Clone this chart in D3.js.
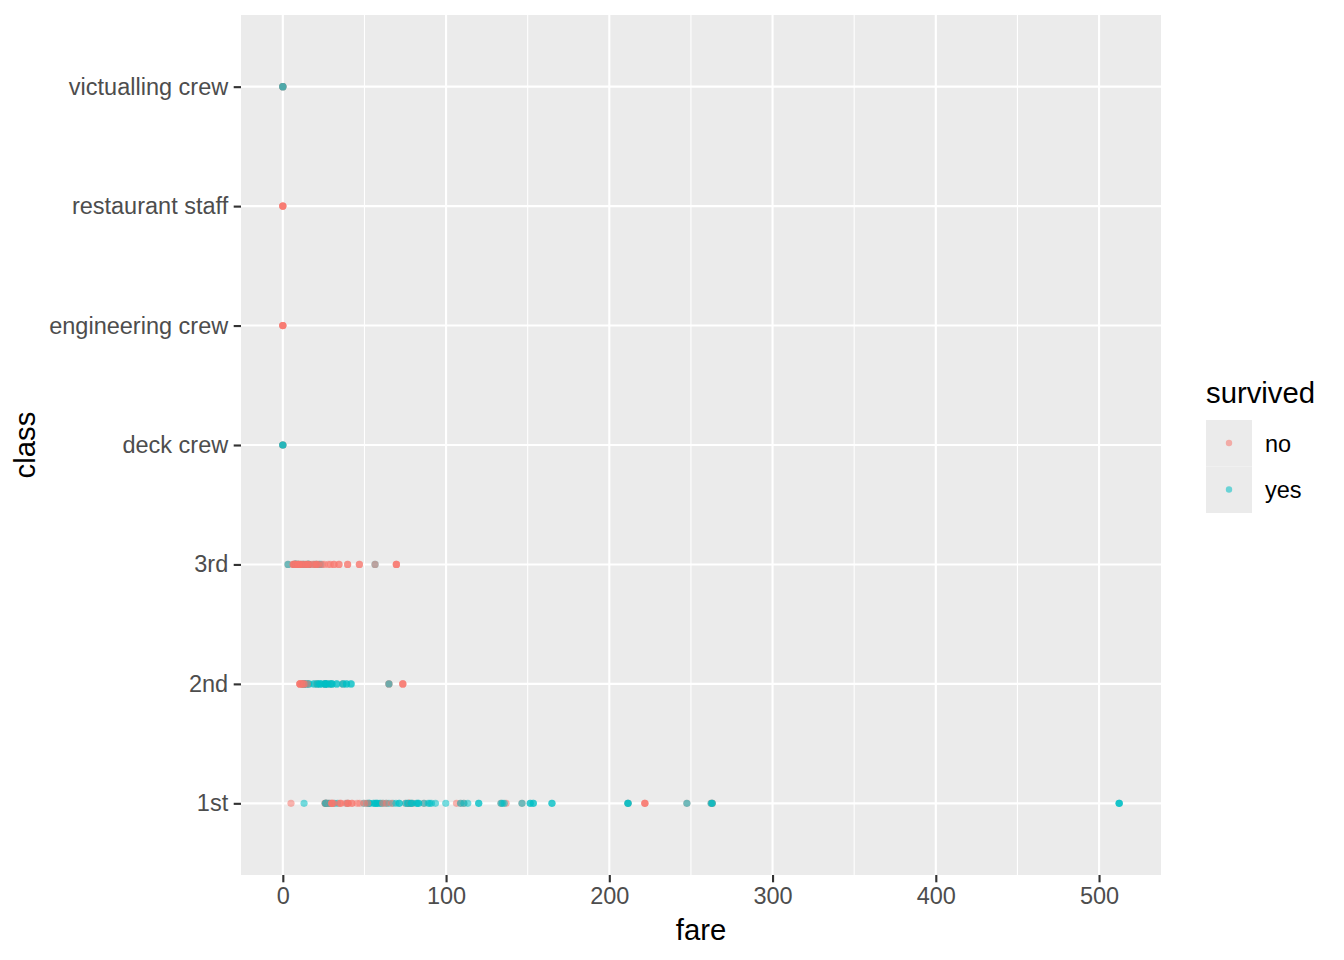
<!DOCTYPE html>
<html><head><meta charset="utf-8">
<script src="https://cdn.jsdelivr.net/npm/d3@7"></script>
<style>body{margin:0;background:#fff}svg{display:block}text{font-family:"Liberation Sans",Arial,sans-serif}</style>
</head><body><svg id="c" width="1344" height="960"></svg>
<script>
const classes = ["1st","2nd","3rd","deck crew","engineering crew","restaurant staff","victualling crew"];
const xTicks = [0,100,200,300,400,500];
const xMinor = [50,150,250,350,450];
const survivedLevels = ["no","yes"];
const colors = ["#F8766D","#00BFC4"];

const firstNo = [5,25.9,26,26.55,26.55,27.7,28.5,29.7,30,30,30.5,31,34.65,35.5,35.5,38.5,39.6,40.1,40.1,42.4,42.4,45.5,47.1,50,52,61.2,63.4,66.6,75.25,77.3,77.3,77.3,77.96,79.65,86.5,106.4,108.9,110.9,133.65,136.78,146.5,211.5,221.78,221.78,221.78,247.52,262.375,263,263];
const firstYes = [13,25.93,26.55,26.55,26.29,27.72,28.71,31.68,33.5,39.4,49.5,51.48,52.55,53.1,53.1,55.44,55.9,56.93,57,57.75,57.98,59.4,60,61.38,63.36,65,67.5,69.3,71.28,71.28,75.24,76.29,76.73,78.27,78.85,79.2,81.86,82.27,83.16,83.16,86.5,89.1,90,91.08,93.5,99.8,108.9,110.88,113.28,120,120,133.65,134.5,135.63,146.52,151.55,151.55,153.46,153.46,164.87,164.87,211.34,211.5,211.5,247.52,262.38,263,263,512.33,512.33,512.33];
const secondNo = [10.5,10.5,10.5,10.5,11.5,12,12.35,13,13,15,21,26,26,29,36.75,65,65,73.5,73.5,73.5];
const secondYes = [12.65,13,13,13,14.5,15,15.75,16,18.75,19.5,21,21,22,23,23,24,26,26,26,26.25,27,27.75,29,30,30,30.07,33,33,36.75,37,39,39,41.58,42,65];
const thirdNo = [3.17,6.24,6.45,7,7.05,7.23,7.25,7.75,7.9,8.05,8.66,9.35,9.5,9.8,10.46,11.13,12.29,12.47,14.1,14.5,15.25,15.5,16.1,17.8,18.79,20.21,20.52,21.08,22.03,24.15,25.47,27.9,29.12,31.27,31.39,34.38,34.38,39.69,39.69,46.9,46.9,56.5,69.55,69.55,69.55];
const thirdYes = [3.17,7.14,7.75,7.92,8.05,8.1,9.23,9.59,11.13,12.47,13.42,15.25,15.5,15.75,16.1,19.26,20.58,22.36,23.25,56.5];
const deckNo = [0,0];
const deckYes = [0,0,0];
const engineeringNo = [0,0,0,0];
const engineeringYes = [];
const restaurantNo = [0,0,0,0];
const restaurantYes = [];
const victuallingNo = [0,0,0];
const victuallingYes = [0,0,0];

const groups = [
  ["1st", firstNo, firstYes],
  ["2nd", secondNo, secondYes],
  ["3rd", thirdNo, thirdYes],
  ["deck crew", deckNo, deckYes],
  ["engineering crew", engineeringNo, engineeringYes],
  ["restaurant staff", restaurantNo, restaurantYes],
  ["victualling crew", victuallingNo, victuallingYes]
];
let points = [];
groups.forEach(([cls, no, yes]) => {
  const n = Math.max(no.length, yes.length), arr = [];
  for (let i = 0; i < n; i++) {
    if (i < no.length) arr.push({cls, fare: no[i], s: "no"});
    if (i < yes.length) arr.push({cls, fare: yes[i], s: "yes"});
  }
  points = points.concat(arr);
});

const svg = d3.select("#c");
const P = {l: 241, r: 1161, t: 15, b: 875};
const x = d3.scaleLinear().domain([-25.62, 537.95]).range([P.l, P.r]);
const y = d3.scalePoint().domain(classes).range([P.b, P.t]).padding(0.6);
const col = d3.scaleOrdinal().domain(survivedLevels).range(colors);

svg.append("rect").attr("x", P.l).attr("y", P.t).attr("width", P.r - P.l).attr("height", P.b - P.t).attr("fill", "#EBEBEB");
svg.selectAll(".gmin").data(xMinor).join("line").attr("x1", d => x(d)).attr("x2", d => x(d)).attr("y1", P.t).attr("y2", P.b).attr("stroke", "#fff").attr("stroke-width", 1.07);
svg.selectAll(".gx").data(xTicks).join("line").attr("x1", d => x(d)).attr("x2", d => x(d)).attr("y1", P.t).attr("y2", P.b).attr("stroke", "#fff").attr("stroke-width", 2.13);
svg.selectAll(".gy").data(classes).join("line").attr("x1", P.l).attr("x2", P.r).attr("y1", d => y(d)).attr("y2", d => y(d)).attr("stroke", "#fff").attr("stroke-width", 2.13);

svg.append("g").selectAll("circle").data(points).join("circle")
  .attr("cx", d => x(d.fare)).attr("cy", d => y(d.cls)).attr("r", 3.6)
  .attr("fill", d => col(d.s)).attr("fill-opacity", 0.55);

const xa = svg.append("g").attr("transform", `translate(0,${P.b})`).call(d3.axisBottom(x).tickValues(xTicks).tickSize(7.3).tickPadding(5));
xa.select(".domain").remove();
xa.selectAll("line").attr("stroke", "#333").attr("stroke-width", 2.13);
xa.selectAll("text").attr("fill", "#4D4D4D").attr("font-size", 23.5);
const ya = svg.append("g").attr("transform", `translate(${P.l},0)`).call(d3.axisLeft(y).tickSize(7.3).tickPadding(5.5));
ya.select(".domain").remove();
ya.selectAll("line").attr("stroke", "#333").attr("stroke-width", 2.13);
ya.selectAll("text").attr("fill", "#4D4D4D").attr("font-size", 23.5);

svg.append("text").attr("x", (P.l + P.r) / 2).attr("y", 940).attr("text-anchor", "middle").attr("font-size", 29.3).attr("fill", "#000").text("fare");
svg.append("text").attr("transform", `translate(35,${(P.t + P.b) / 2}) rotate(-90)`).attr("text-anchor", "middle").attr("font-size", 29.3).attr("fill", "#000").text("class");

const lg = svg.append("g");
lg.append("text").attr("x", 1206).attr("y", 403).attr("font-size", 29.3).attr("fill", "#000").text("survived");
survivedLevels.forEach((s, i) => {
  const cy = 443 + i * 46.5;
  lg.append("rect").attr("x", 1206).attr("y", cy - 23).attr("width", 46).attr("height", 46.5).attr("fill", "#EBEBEB");
  lg.append("circle").attr("cx", 1229).attr("cy", cy).attr("r", 3.2).attr("fill", col(s)).attr("fill-opacity", 0.55);
  lg.append("text").attr("x", 1265).attr("y", cy + 8.5).attr("font-size", 23.5).attr("fill", "#000").text(s);
});
</script></body></html>
